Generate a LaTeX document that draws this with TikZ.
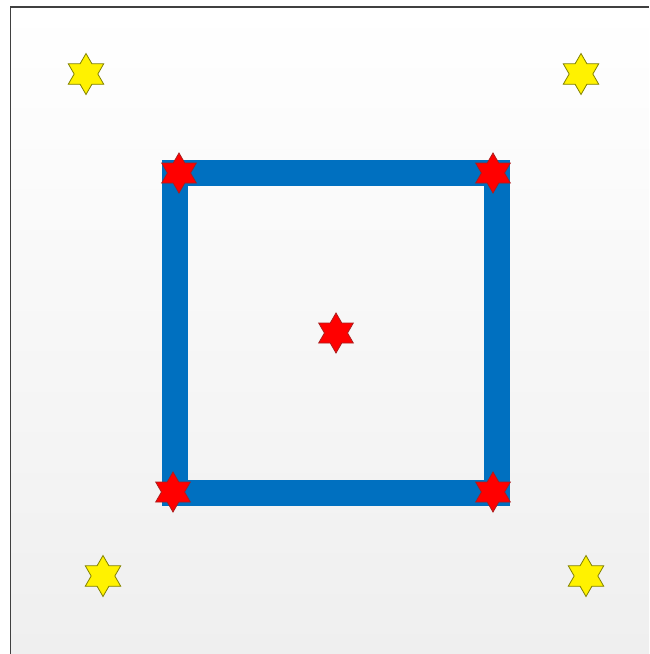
\documentclass[tikz,border=0pt]{standalone}
\usetikzlibrary{shapes.geometric}
\begin{document}
\begin{tikzpicture}[x=1pt,y=-1pt,
  hexstar/.style={star, star points=6, star point ratio=1.732, inner sep=0pt, line width=0.8pt},
  ystar/.style={hexstar, minimum size=41pt, fill=yellow, draw={rgb,255:red,128;green,128;blue,0}},
  rstar/.style={hexstar, minimum size=40pt, fill=red, draw={rgb,255:red,170;green,30;blue,30}}]
\definecolor{boxblue}{RGB}{0,112,192}
\definecolor{bgbot}{RGB}{239,239,239}
\useasboundingbox (0,0) rectangle (649,654);
\fill[white] (0,0) rectangle (649,654);
\shade[top color=white, bottom color=bgbot] (10.5,7) rectangle (649,654);
\draw[line width=1.2pt, black!75] (10.5,654) -- (10.5,7) -- (649,7);
\draw[boxblue, line width=26pt, line join=miter] (175,173) rectangle (497,493);
\node[ystar] (y1) at (86,74) {};
\node[ystar] (y2) at (581,74) {};
\node[ystar] (y3) at (103,576) {};
\node[ystar] (y4) at (586,576) {};
\node[rstar] (r1) at (179,173) {};
\node[rstar] (r2) at (493,173) {};
\node[rstar] (r3) at (173,492) {};
\node[rstar] (r4) at (493,492) {};
\node[rstar] (r5) at (336,333) {};
\end{tikzpicture}
\end{document}
